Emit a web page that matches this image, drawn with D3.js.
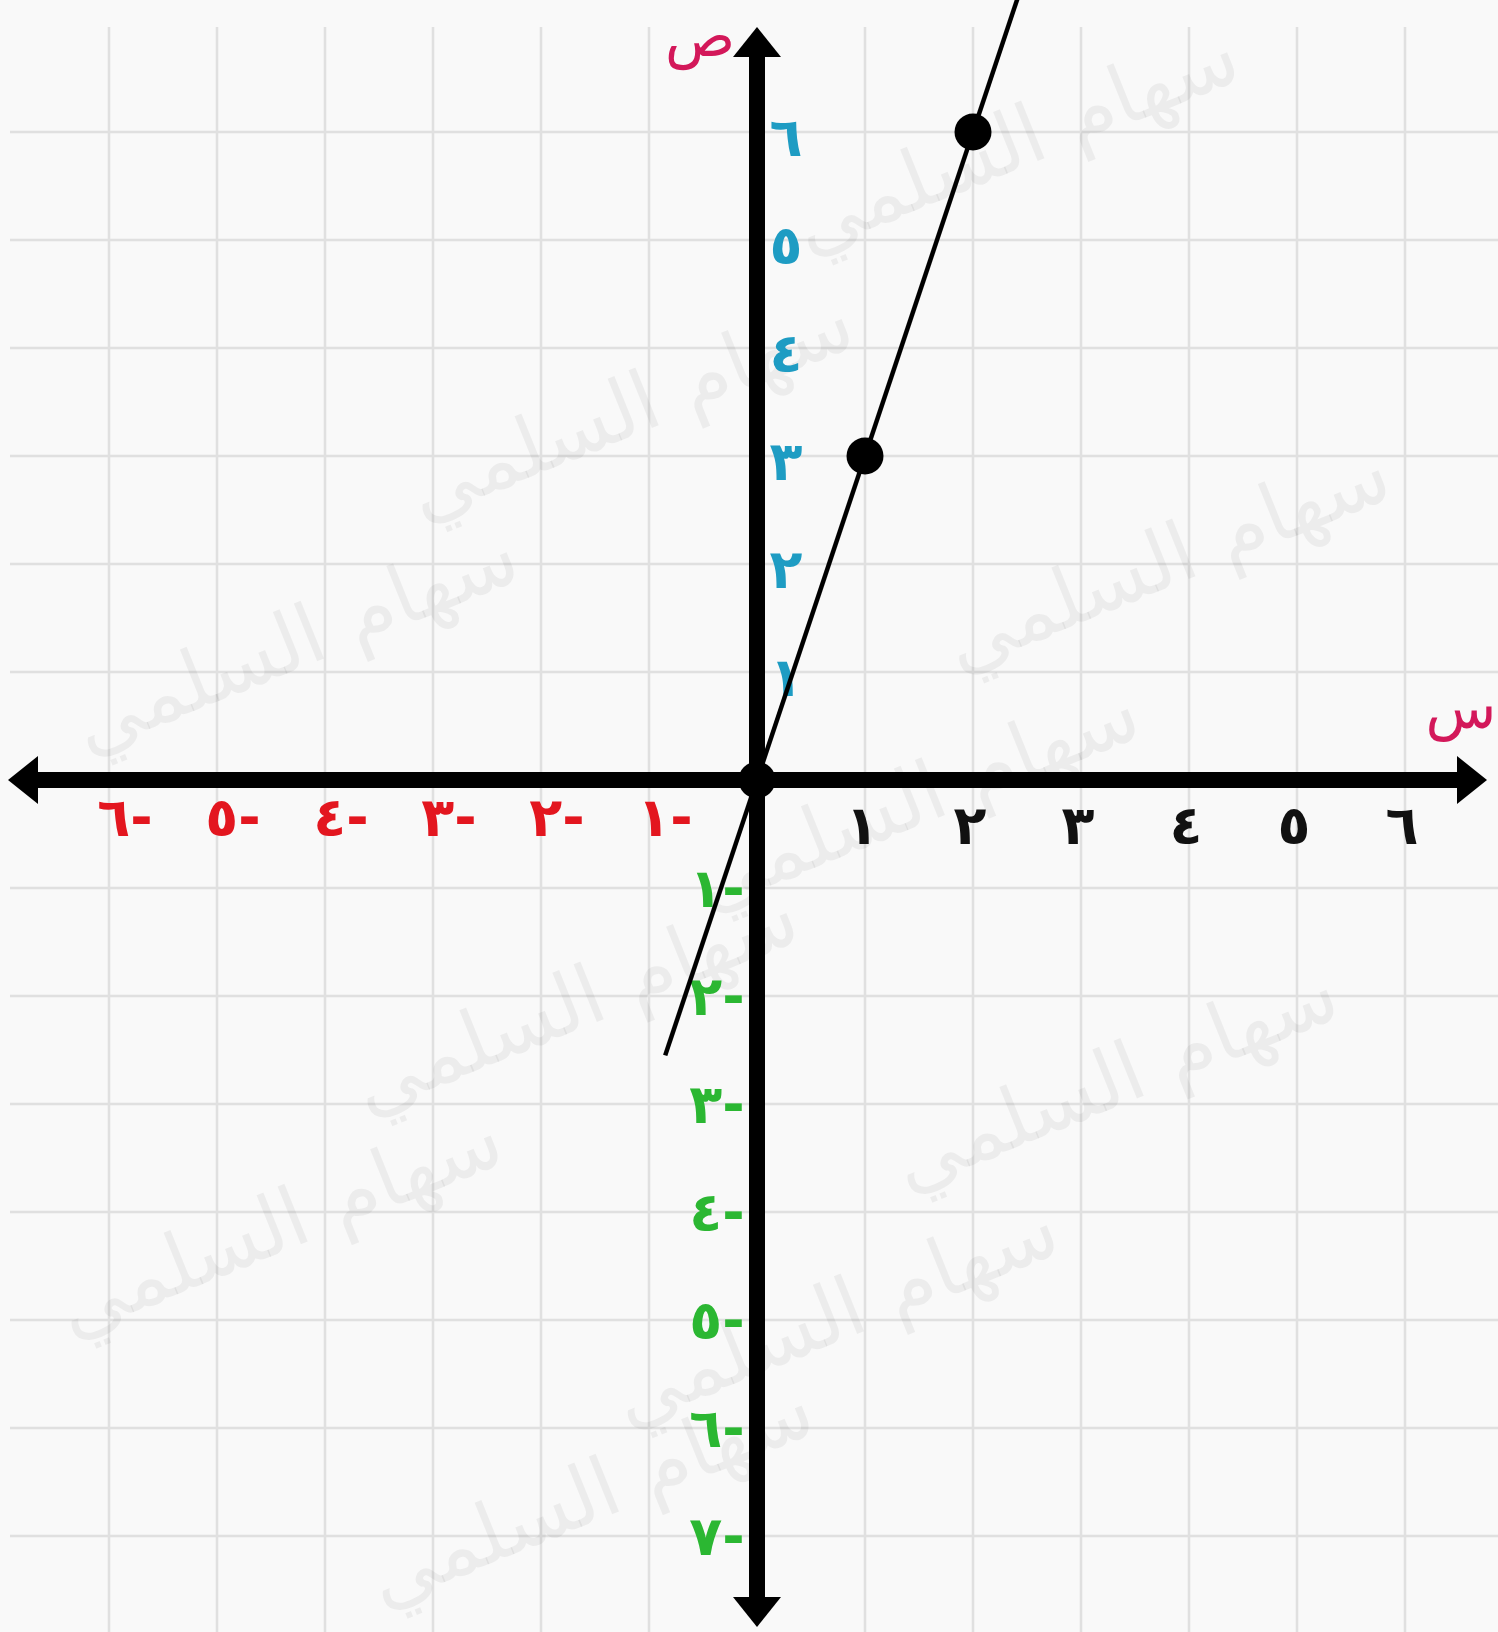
<!DOCTYPE html>
<html>
<head>
<meta charset="utf-8">
<script src="https://cdn.jsdelivr.net/npm/d3@7"></script>
<style>
  html, body { margin: 0; padding: 0; background: #f9f9f9; }
  svg { display: block; }
</style>
</head>
<body>
<svg id="chart"></svg>
<script>
// values
const xTicksPos = [1, 2, 3, 4, 5, 6];
const xLabelsPos = ['١', '٢', '٣', '٤', '٥', '٦'];
const xTicksNeg = [-1, -2, -3, -4, -5, -6];
const xLabelsNeg = ['-١', '-٢', '-٣', '-٤', '-٥', '-٦'];
const yTicksPos = [1, 2, 3, 4, 5, 6];
const yLabelsPos = ['١', '٢', '٣', '٤', '٥', '٦'];
const yTicksNeg = [-1, -2, -3, -4, -5, -6, -7];
const yLabelsNeg = ['-١', '-٢', '-٣', '-٤', '-٥', '-٦', '-٧'];
const gridX = [-6, -5, -4, -3, -2, -1, 1, 2, 3, 4, 5, 6];
const gridY = [-7, -6, -5, -4, -3, -2, -1, 1, 2, 3, 4, 5, 6];
const points = [{x: 0, y: 0}, {x: 1, y: 3}, {x: 2, y: 6}];
const lineX = [-0.85, 2.5];   // extent of the drawn line y = 3x
const slope = 3;
const xTitle = 'س';
const yTitle = 'ص';
const watermarkText = 'سهام السلمي';
const watermarkSpots = [[2.39, 5.93], [-1.18, 3.46], [-4.28, 1.30], [3.79, 2.06], [1.47, -0.15],
  [-1.69, -2.04], [3.31, -2.75], [-4.43, -4.10], [0.72, -4.93], [-1.55, -6.6]];

const config = {
  width: 1498,
  height: 1632,
  origin: {x: 757, y: 780},
  unit: 108,
  axisWidth: 16,
  arrowLen: 30,
  arrowHalf: 24,
  font: '"DejaVu Sans", "Noto Sans", sans-serif'
};

const svg = d3.select('#chart')
    .attr('width', config.width)
    .attr('height', config.height);

svg.append('rect')
    .attr('width', config.width)
    .attr('height', config.height)
    .attr('fill', '#f9f9f9');

// scales: one data unit = one grid square
const x = d3.scaleLinear()
    .domain([-7, 7])
    .range([config.origin.x - 7 * config.unit, config.origin.x + 7 * config.unit]);
const y = d3.scaleLinear()
    .domain([-8, 7])
    .range([config.origin.y + 8 * config.unit, config.origin.y - 7 * config.unit]);

// limits of grid and axes (data units)
const gridLeft = x.invert(10), gridTop = y.invert(27);
const axisLeft = x.invert(8), axisRight = x.invert(1487);
const axisTop = y.invert(27), axisBottom = y.invert(1627);

// grid
const grid = svg.append('g').attr('stroke', '#e0e0e0').attr('stroke-width', 2.5);
grid.selectAll('.vgrid')
    .data(gridX)
    .join('line')
    .attr('class', 'vgrid')
    .attr('x1', d => x(d)).attr('x2', d => x(d))
    .attr('y1', y(gridTop)).attr('y2', config.height);
grid.selectAll('.hgrid')
    .data(gridY)
    .join('line')
    .attr('class', 'hgrid')
    .attr('y1', d => y(d)).attr('y2', d => y(d))
    .attr('x1', x(gridLeft)).attr('x2', config.width);

// watermark
svg.append('g').selectAll('text')
    .data(watermarkSpots)
    .join('text')
    .attr('transform', d => `translate(${x(d[0])},${y(d[1])}) rotate(-22)`)
    .attr('text-anchor', 'middle')
    .attr('dominant-baseline', 'central')
    .attr('font-family', config.font)
    .attr('font-size', 82)
    .attr('fill', '#000')
    .attr('fill-opacity', 0.05)
    .text(watermarkText);

// tick labels
const label = (sel, color) => sel
    .attr('font-family', config.font)
    .attr('font-weight', 'bold')
    .attr('font-size', 54)
    .attr('fill', color)
    .attr('text-anchor', 'middle')
    .attr('direction', 'rtl');

svg.append('g').selectAll('text')
    .data(yTicksPos)
    .join('text')
    .call(label, '#1e9cc3')
    .attr('x', x(0) + 29)
    .attr('y', d => y(d) + 24)
    .text((d, i) => yLabelsPos[i]);

svg.append('g').selectAll('text')
    .data(xTicksPos)
    .join('text')
    .call(label, '#111')
    .attr('x', d => x(d) - 3)
    .attr('y', y(0) + 64)
    .text((d, i) => xLabelsPos[i]);

svg.append('g').selectAll('text')
    .data(xTicksNeg)
    .join('text')
    .call(label, '#e3161f')
    .attr('x', d => x(d) + 16)
    .attr('y', y(0) + 56)
    .text((d, i) => xLabelsNeg[i]);

svg.append('g').selectAll('text')
    .data(yTicksNeg)
    .join('text')
    .call(label, '#2bb732')
    .attr('x', x(0) - 40)
    .attr('y', d => y(d) + 19)
    .text((d, i) => yLabelsNeg[i]);

// the line y = 3x
svg.append('line')
    .attr('x1', x(lineX[0])).attr('y1', y(slope * lineX[0]))
    .attr('x2', x(lineX[1])).attr('y2', y(slope * lineX[1]))
    .attr('stroke', '#000')
    .attr('stroke-width', 4.5);

// axes with arrowheads
const axes = svg.append('g').attr('fill', '#000');
axes.append('line')
    .attr('x1', x(axisLeft) + config.arrowLen - 2).attr('x2', x(axisRight) - config.arrowLen + 2)
    .attr('y1', y(0)).attr('y2', y(0))
    .attr('stroke', '#000').attr('stroke-width', config.axisWidth);
axes.append('line')
    .attr('y1', y(axisTop) + config.arrowLen - 2).attr('y2', y(axisBottom) - config.arrowLen + 2)
    .attr('x1', x(0)).attr('x2', x(0))
    .attr('stroke', '#000').attr('stroke-width', config.axisWidth);

const L = config.arrowLen, H = config.arrowHalf;
const arrows = [
  [[x(axisRight), y(0)], [x(axisRight) - L, y(0) - H], [x(axisRight) - L, y(0) + H]],
  [[x(axisLeft), y(0)], [x(axisLeft) + L, y(0) - H], [x(axisLeft) + L, y(0) + H]],
  [[x(0), y(axisTop)], [x(0) - H, y(axisTop) + L], [x(0) + H, y(axisTop) + L]],
  [[x(0), y(axisBottom)], [x(0) - H, y(axisBottom) - L], [x(0) + H, y(axisBottom) - L]]
];
axes.selectAll('path')
    .data(arrows)
    .join('path')
    .attr('d', d => 'M' + d.join('L') + 'Z');

// axis titles
svg.append('text')
    .attr('x', x(0) - 57)
    .attr('y', y(axisTop) + 29)
    .attr('font-family', config.font)
    .attr('font-size', 58)
    .attr('fill', '#d3185a')
    .attr('text-anchor', 'middle')
    .text(yTitle);
svg.append('text')
    .attr('x', x(axisRight) - 26)
    .attr('y', y(0) - 52)
    .attr('font-family', config.font)
    .attr('font-size', 58)
    .attr('fill', '#d3185a')
    .attr('text-anchor', 'middle')
    .text(xTitle);

// points
svg.append('g').selectAll('circle')
    .data(points)
    .join('circle')
    .attr('cx', d => x(d.x))
    .attr('cy', d => y(d.y))
    .attr('r', 18.5)
    .attr('fill', '#000');
</script>
</body>
</html>
